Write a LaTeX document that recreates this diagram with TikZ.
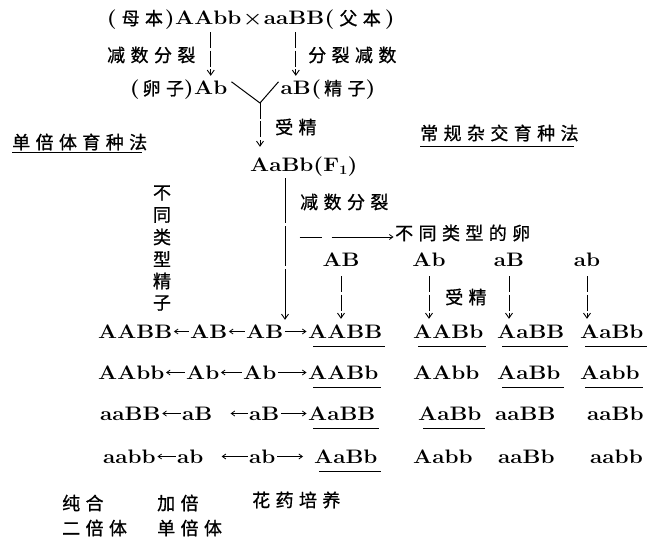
\documentclass[tikz,border=0pt]{standalone}
\usepackage{fontspec}
\newfontfamily\genefam{Latin Modern Roman}[FakeStretch=1.15]
\newfontfamily\hanfam{Noto Sans CJK SC}[LetterSpace=30,FakeBold=0.9]
\newfontfamily\hanplain{Noto Sans CJK SC}[FakeBold=0.9]
\newcommand\genefont{\genefam\bfseries\fontsize{19.5}{19.5}\selectfont}
\newcommand\hanfont{\hanfam\mdseries\fontsize{18}{18}\selectfont}
\usetikzlibrary{arrows.meta}
\tikzset{
  gtxt/.style={font=\genefont, inner sep=0pt, text height=13pt, text depth=0pt},
  ctxt/.style={font=\hanfont, inner sep=0pt},
  csolo/.style={font=\hanplain\mdseries\fontsize{18}{18}\selectfont, inner sep=0pt},
  mixed/.style={inner sep=0pt},
  arr/.style={-{Straight Barb[length=5pt,width=7pt]}, line width=0.9pt},
  sarr/.style={-{Straight Barb[length=3.5pt,width=5pt]}, line width=0.8pt, shorten <=1.5pt, shorten >=1.5pt},
  dsh/.style={dash pattern=on 16pt off 2.5pt},
  ulin/.style={line width=0.8pt},
  tul/.style={line width=1.8pt},
  vline/.style={line width=1pt}
}
\newcommand\gul[1]{\draw[ulin] ([xshift=5pt,yshift=-8pt]#1.base west) -- ([xshift=3pt,yshift=-8pt]#1.base east);}
\begin{document}
\begin{tikzpicture}[x=1pt,y=-1pt]
\useasboundingbox (0,0) rectangle (648,540);
\fill[white] (0,0) rectangle (648,540);

% parents
\node[gtxt, anchor=base west] (pAAbb) at (175,25) {AAbb};
\node[gtxt, anchor=base west] (cross) at ([xshift=1pt]pAAbb.base east) {×};
\node[gtxt, anchor=base west] (paaBB) at ([xshift=1pt]cross.base east) {aaBB};
\node[mixed, anchor=base east] (mother) at (pAAbb.base west) {\genefont(\hspace{5pt}\hanfont 母本\hspace{2pt}\genefont)};
\node[mixed, anchor=base west] (father) at (paaBB.base east) {\genefont(\hspace{5pt}\hanfont 父本\hspace{4pt}\genefont)};

\node[ctxt, anchor=west] (mei1) at (107,55) {减数分裂};
\node[ctxt, anchor=west] (mei2) at (308,55) {分裂减数};

% gametes
\node[gtxt, anchor=base west] (egg) at (194,95) {Ab};
\node[gtxt, anchor=base west] (sperm) at (280.5,95) {aB};
\node[mixed, anchor=base east] (eggl) at (egg.base west) {\genefont(\hspace{3pt}\hanfont 卵子\genefont)};
\node[mixed, anchor=base west] (sperml) at (sperm.base east) {\genefont(\hspace{3pt}\hanfont 精子\genefont)};
\coordinate (vb) at (260,103);

\draw[arr, dsh, shorten <=7pt, shorten >=6pt] (egg.north |- pAAbb.south) -- (egg.north);
\draw[arr, dsh, shorten <=7pt, shorten >=6pt] (sperm.north |- paaBB.south) -- (sperm.north);
\draw[vline] ([xshift=4pt]egg.north east) -- (vb) -- ([xshift=-2pt]sperm.north west);

% F1
\node[gtxt, anchor=base west] (F1) at (250,172) {AaBb(F\raisebox{-3pt}{\fontsize{13}{13}\selectfont 1})};
\draw[arr, dsh, shorten >=12pt] (vb) -- (vb |- F1.north);
\node[ctxt, anchor=west] (fert1) at (275,127) {受精};

% method titles
\node[ctxt, anchor=west] (hap) at (12,142) {单倍体育种法};
\draw[tul] ([yshift=-2pt]hap.south west) -- ([yshift=-2pt,xshift=-5pt]hap.south east);
\node[ctxt, anchor=west] (conv) at (420,133) {常规杂交育种法};
\draw[tul] ([yshift=-5pt]conv.south west) -- ([yshift=-5pt,xshift=-5pt]conv.south east);

% vertical label
\foreach \ch [count=\i] in {不,同,类,型,精,子}
  \node[csolo] (sp\i) at (162,171+22*\i) {\ch};

% meiosis of F1
\node[ctxt, anchor=west] (mei3) at (300,202) {减数分裂};
\coordinate (hs) at (298,237);
\node[ctxt, anchor=west] (eggtypes) at (395,233) {不同类型的卵};
\draw[sarr, dash pattern=on 22pt off 10pt on 100pt] (hs) -- (hs -| eggtypes.west);

% eggs
\node[gtxt, anchor=base] (eAB) at (341,266) {AB};
\node[gtxt, anchor=base] (eAb) at (429,266) {Ab};
\node[gtxt, anchor=base] (eaB) at (509,266) {aB};
\node[gtxt, anchor=base] (eab) at (587,266) {ab};
\node[ctxt, anchor=west] (fert2) at (445,297) {受精};

% rows
\node[gtxt, anchor=base west] (L1) at (98,338) {AABB};
\node[gtxt, anchor=base west] (a1) at (190,338) {AB};
\node[gtxt, anchor=base west] (b1) at (246,338) {AB};
\node[gtxt, anchor=base west] (R1) at (308,338) {AABB};
\node[gtxt, anchor=base west] (c1) at (413,338) {AABb};
\node[gtxt, anchor=base west] (d1) at (497,338) {AaBB};
\node[gtxt, anchor=base west] (e1) at (580,338) {AaBb};

\node[gtxt, anchor=base west] (L2) at (98,379) {AAbb};
\node[gtxt, anchor=base west] (a2) at (186,379) {Ab};
\node[gtxt, anchor=base west] (b2) at (243,379) {Ab};
\node[gtxt, anchor=base west] (R2) at (308,379) {AABb};
\node[gtxt, anchor=base west] (c2) at (413,379) {AAbb};
\node[gtxt, anchor=base west] (d2) at (497,379) {AaBb};
\node[gtxt, anchor=base west] (e2) at (580,379) {Aabb};

\node[gtxt, anchor=base west] (L3) at (100,420) {aaBB};
\node[gtxt, anchor=base west] (a3) at (182,420) {aB};
\node[gtxt, anchor=base west] (b3) at (249,420) {aB};
\node[gtxt, anchor=base west] (R3) at (308,420) {AaBB};
\node[gtxt, anchor=base west] (c3) at (418,420) {AaBb};
\node[gtxt, anchor=base west] (d3) at (495,420) {aaBB};
\node[gtxt, anchor=base west] (e3) at (587,420) {aaBb};

\node[gtxt, anchor=base west] (L4) at (103,463) {aabb};
\node[gtxt, anchor=base west] (a4) at (177,463) {ab};
\node[gtxt, anchor=base west] (b4) at (249,463) {ab};
\node[gtxt, anchor=base west] (R4) at (314,463) {AaBb};
\node[gtxt, anchor=base west] (c4) at (413,463) {Aabb};
\node[gtxt, anchor=base west] (d4) at (498,463) {aaBb};
\node[gtxt, anchor=base west] (e4) at (590,463) {aabb};

% F1 line to sperm column
\coordinate (f1b) at ([xshift=35pt]F1.south west);
\draw[arr, shorten <=6pt, shorten >=5pt, dash pattern=on 45pt off 3pt on 40pt off 3pt on 100pt] (f1b) -- (f1b |- b1.north);

% egg arrows
\foreach \e/\t in {eAB/R1, eAb/c1, eaB/d1, eab/e1}
  \draw[arr, dsh, shorten <=10pt, shorten >=6pt] (\e.south) -- (\e.south |- \t.north);

% row arrows
\foreach \r in {1,2}{
  \draw[sarr] (a\r.west) -- (L\r.east);
  \draw[sarr] (b\r.west) -- (a\r.east);
  \draw[sarr] (b\r.east) -- (R\r.west);
}
\draw[sarr] (a3.west) -- (L3.east);
\draw[sarr, shorten >=18pt] (b3.west) -- (a3.east);
\draw[sarr] (b3.east) -- (R3.west);
\draw[sarr] (a4.west) -- (L4.east);
\draw[sarr, shorten >=18pt] (b4.west) -- (a4.east);
\draw[sarr, shorten >=11pt] (b4.east) -- (R4.west);

% underlines
\gul{R1}\gul{c1}\gul{d1}\gul{e1}
\gul{R2}\gul{d2}\gul{e2}
\gul{R3}\gul{c3}
\gul{R4}

% bottom labels
\node[ctxt, anchor=west] (pure1) at (62,503) {纯合};
\node[ctxt, anchor=west] (pure2) at (62,528) {二倍体};
\node[ctxt, anchor=west] (dbl1) at (157,503) {加倍};
\node[ctxt, anchor=west] (dbl2) at (157,528) {单倍体};
\node[ctxt, anchor=west] (anther) at (252,500) {花药培养};
\end{tikzpicture}
\end{document}
